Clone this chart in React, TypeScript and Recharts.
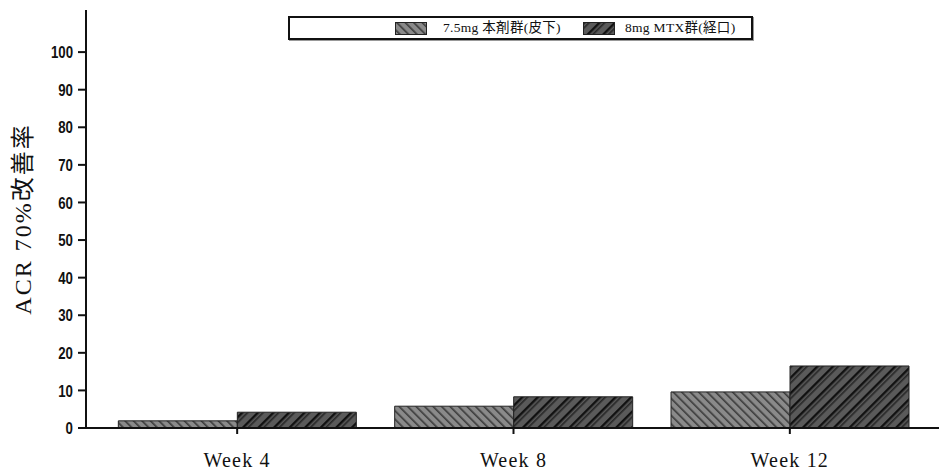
import React from "react";
import {
  BarChart,
  Bar,
  XAxis,
  YAxis,
} from "recharts";

const categories = ["Week 4", "Week 8", "Week 12"];
const seriesSC = [1.9, 5.8, 9.6];
const seriesMTX = [4.2, 8.3, 16.5];
const seriesNames = ["7.5mg 本剤群(皮下)", "8mg MTX群(経口)"];
const yTicks = [0, 10, 20, 30, 40, 50, 60, 70, 80, 90, 100];
const yLabel = "ACR 70%改善率";

const data = categories.map((c, i) => ({
  name: c,
  sc: seriesSC[i],
  mtx: seriesMTX[i],
}));

const PatternDefs = ({ prefix }: { prefix: string }) => (
  <defs>
    <pattern
      id={`${prefix}-p1`}
      patternUnits="userSpaceOnUse"
      width="6"
      height="6"
      patternTransform="rotate(-45)"
    >
      <rect x="0" y="0" width="6" height="6" fill="#8a8a8a" />
      <rect x="0" y="0" width="1.6" height="6" fill="#3a3a3a" />
    </pattern>
    <pattern
      id={`${prefix}-p2`}
      patternUnits="userSpaceOnUse"
      width="11"
      height="11"
      patternTransform="rotate(45)"
    >
      <rect x="0" y="0" width="11" height="11" fill="#5a5a5a" />
      <rect x="0" y="0" width="2.4" height="11" fill="#111" />
      <rect x="4.2" y="0" width="1.3" height="11" fill="#1a1a1a" />
    </pattern>
  </defs>
);

const YTick = (props: any) => {
  const { x, y, payload } = props;
  return (
    <text
      transform={`translate(${x},${y}) scale(0.78,1)`}
      textAnchor="end"
      dominantBaseline="central"
      fill="#111"
      fontSize={17}
      fontWeight="bold"
      fontFamily="'Liberation Sans', Arial, sans-serif"
    >
      {payload.value}
    </text>
  );
};

const LegendBox = () => (
  <div
    style={{
      position: "absolute",
      left: 288,
      top: 16,
      width: 461,
      height: 20,
      border: "2px solid #111",
      background: "#fff",
      boxShadow: "1px 1px 0 #999",
      fontFamily: "'Liberation Serif', 'Noto Sans CJK JP', serif",
      fontSize: 13.5,
      letterSpacing: 0.3,
      color: "#111",
    }}
  >
    <svg width="0" height="0" style={{ position: "absolute" }}>
      <PatternDefs prefix="lg" />
    </svg>
    <div style={{ position: "absolute", left: 105, top: 3, display: "flex", alignItems: "center" }}>
      <svg width="32" height="13">
        <rect x="0.5" y="0.5" width="31" height="12" fill="url(#lg-p1)" stroke="#222" />
      </svg>
      <span style={{ marginLeft: 16, lineHeight: "14px", whiteSpace: "nowrap" }}>{seriesNames[0]}</span>
    </div>
    <div style={{ position: "absolute", left: 293, top: 3, display: "flex", alignItems: "center" }}>
      <svg width="32" height="13">
        <rect x="0.5" y="0.5" width="31" height="12" fill="url(#lg-p2)" stroke="#222" />
      </svg>
      <span style={{ marginLeft: 10, lineHeight: "14px", whiteSpace: "nowrap" }}>{seriesNames[1]}</span>
    </div>
  </div>
);

export default function App() {
  return (
    <div style={{ position: "absolute", left: 0, top: 0, width: 940, height: 471, background: "#fff" }}>
      <BarChart
        width={940}
        height={471}
        data={data}
        margin={{ top: 10, right: 1, bottom: 0, left: 0 }}
        barCategoryGap="7%"
        barGap={0}
      >
        <PatternDefs prefix="ch" />
        <XAxis
          dataKey="name"
          padding={{ left: 13, right: 11 }}
          height={43}
          axisLine={{ stroke: "#111", strokeWidth: 2 }}
          tickLine={{ stroke: "#111", strokeWidth: 2 }}
          tickSize={6}
          tickMargin={19}
          tick={{
            fill: "#111",
            fontSize: 20,
            letterSpacing: 1.2,
            fontFamily: "'Liberation Serif', 'DejaVu Serif', serif",
          }}
        />
        <XAxis
          xAxisId="top"
          orientation="top"
          dataKey="name"
          height={0}
          tick={false}
          tickLine={false}
          axisLine={{ stroke: "#8a8a8a", strokeWidth: 2.5 }}
        />
        <YAxis
          domain={[0, 111.2]}
          ticks={yTicks}
          interval={0}
          width={86}
          axisLine={{ stroke: "#111", strokeWidth: 2 }}
          tickLine={{ stroke: "#111", strokeWidth: 2 }}
          tickSize={8}
          tickMargin={5}
          tick={<YTick />}
          label={{
            value: yLabel,
            angle: -90,
            position: "insideLeft",
            offset: 22,
            style: {
              textAnchor: "middle",
              fontSize: 24,
              letterSpacing: 2,
              fill: "#111",
              fontFamily: "'Liberation Serif', 'Noto Sans CJK JP', serif",
            },
          }}
        />
        <YAxis
          yAxisId="right"
          orientation="right"
          width={0}
          tick={false}
          tickLine={false}
          axisLine={{ stroke: "#8a8a8a", strokeWidth: 2.5 }}
        />
        <Bar
          dataKey="sc"
          name={seriesNames[0]}
          fill="url(#ch-p1)"
          stroke="#222"
          strokeWidth={1}
          isAnimationActive={false}
        />
        <Bar
          dataKey="mtx"
          name={seriesNames[1]}
          fill="url(#ch-p2)"
          stroke="#222"
          strokeWidth={1}
          isAnimationActive={false}
        />
      </BarChart>
      <LegendBox />
    </div>
  );
}
